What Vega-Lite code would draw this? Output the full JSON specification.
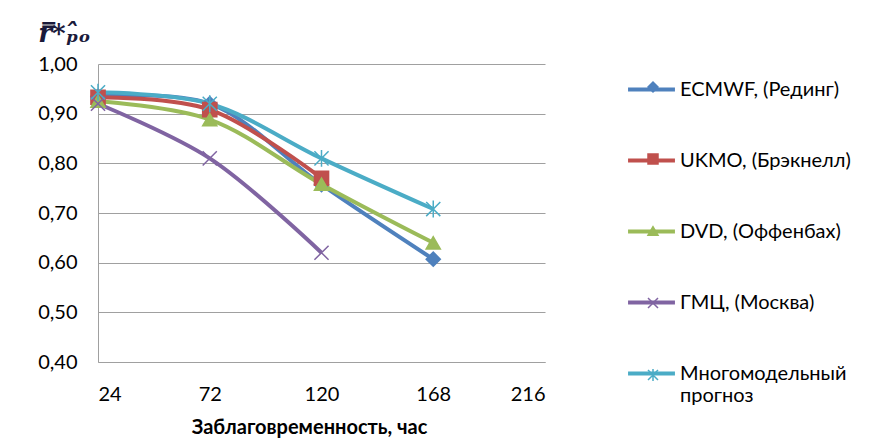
{
  "$schema": "https://vega.github.io/schema/vega-lite/v6.json",
  "width": 447,
  "height": 298,
  "autosize": {"type": "none"},
  "padding": {"left": 98, "top": 64, "right": 334, "bottom": 81},
  "background": "white",
  "config": {
    "font": "Lato",
    "view": {"stroke": null},
    "axis": {"labelFont": "Lato", "labelFontSize": 20, "labelColor": "#000000", "titleFont": "Lato", "titleColor": "#000000"},
    "legend": {"padding": 0, "labelLimit": 400}
  },
  "data": {
    "values": [
      {"series": "ECMWF, (Рединг)", "hours": 24, "value": 0.935},
      {"series": "ECMWF, (Рединг)", "hours": 72, "value": 0.92},
      {"series": "ECMWF, (Рединг)", "hours": 120, "value": 0.757},
      {"series": "ECMWF, (Рединг)", "hours": 168, "value": 0.607},
      {"series": "UKMO, (Брэкнелл)", "hours": 24, "value": 0.933},
      {"series": "UKMO, (Брэкнелл)", "hours": 72, "value": 0.908},
      {"series": "UKMO, (Брэкнелл)", "hours": 120, "value": 0.77},
      {"series": "DVD, (Оффенбах)", "hours": 24, "value": 0.925},
      {"series": "DVD, (Оффенбах)", "hours": 72, "value": 0.888},
      {"series": "DVD, (Оффенбах)", "hours": 120, "value": 0.758},
      {"series": "DVD, (Оффенбах)", "hours": 168, "value": 0.64},
      {"series": "ГМЦ, (Москва)", "hours": 24, "value": 0.92},
      {"series": "ГМЦ, (Москва)", "hours": 72, "value": 0.81},
      {"series": "ГМЦ, (Москва)", "hours": 120, "value": 0.62},
      {"series": "Многомодельный прогноз", "hours": 24, "value": 0.943},
      {"series": "Многомодельный прогноз", "hours": 72, "value": 0.92},
      {"series": "Многомодельный прогноз", "hours": 120, "value": 0.81},
      {"series": "Многомодельный прогноз", "hours": 168, "value": 0.708}
    ]
  },
  "encoding": {
    "x": {
      "field": "hours", "type": "quantitative",
      "scale": {"domain": [24, 216], "nice": false, "zero": false},
      "axis": {
        "values": [24, 72, 120, 168, 216], "grid": false, "ticks": false, "tickSize": 0,
        "domainColor": "#A0A0A0", "labelPadding": 22, "title": "Заблаговременность, час",
        "titleFontSize": 20, "titleFontWeight": "bold", "titlePadding": 13, "titleX": 211
      }
    },
    "y": {
      "field": "value", "type": "quantitative",
      "scale": {"domain": [0.4, 1.0], "nice": false, "zero": false},
      "axis": {
        "values": [0.4, 0.5, 0.6, 0.7, 0.8, 0.9, 1.0], "grid": true, "gridColor": "#A0A0A0", "gridWidth": 1.2,
        "ticks": false, "tickSize": 0, "domainColor": "#A0A0A0", "labelPadding": 21,
        "labelExpr": "replace(format(datum.value, '.2f'), '.', ',')",
        "title": "r̿*ₚ̂ₒ", "titleAngle": 0, "titleX": -34, "titleY": -31, "titleAlign": "center",
        "titleBaseline": "middle", "titleFont": "DejaVu Serif", "titleFontStyle": "italic",
        "titleFontWeight": "bold", "titleFontSize": 26, "titleColor": "#1a1a3a"
      }
    }
  },
  "layer": [
    {
      "mark": {"type": "line", "interpolate": "catmull-rom", "strokeWidth": 4},
      "encoding": {
        "color": {
          "field": "series", "type": "nominal",
          "scale": {
            "domain": ["ECMWF, (Рединг)", "UKMO, (Брэкнелл)", "DVD, (Оффенбах)", "ГМЦ, (Москва)", "Многомодельный прогноз"],
            "range": ["#4F81BD", "#C0504D", "#9BBB59", "#8064A2", "#4BACC6"]
          },
          "legend": {
            "orient": "none", "legendX": 528, "legendY": 0, "title": null,
            "symbolType": "stroke", "symbolSize": 2200, "symbolStrokeWidth": 4,
            "labelFontSize": 20, "labelFont": "Lato", "labelColor": "#000000", "rowPadding": 35, "labelOffset": 3,
            "labelExpr": "datum.label == 'Многомодельный прогноз' ? ['Многомодельный', 'прогноз'] : datum.label"
          }
        }
      }
    },
    {
      "mark": {"type": "point", "filled": true, "opacity": 1, "strokeWidth": 1.5},
      "encoding": {
        "color": {
          "field": "series", "type": "nominal",
          "scale": {
            "domain": ["ECMWF, (Рединг)", "UKMO, (Брэкнелл)", "DVD, (Оффенбах)", "ГМЦ, (Москва)", "Многомодельный прогноз"],
            "range": ["#4F81BD", "#C0504D", "#9BBB59", "#8064A2", "#4BACC6"]
          },
          "legend": {
            "orient": "none", "legendX": 545, "legendY": 13, "title": null,
            "labelFontSize": 20, "labelFont": "Lato", "labelOpacity": 0, "rowPadding": 52, "symbolStrokeWidth": 1.5,
            "labelExpr": "' '"
          }
        },
        "stroke": {
          "field": "series", "type": "nominal",
          "scale": {
            "domain": ["ECMWF, (Рединг)", "UKMO, (Брэкнелл)", "DVD, (Оффенбах)", "ГМЦ, (Москва)", "Многомодельный прогноз"],
            "range": ["#4F81BD", "#C0504D", "#9BBB59", "#8064A2", "#4BACC6"]
          },
          "legend": null
        },
        "shape": {
          "field": "series", "type": "nominal",
          "scale": {
            "domain": ["ECMWF, (Рединг)", "UKMO, (Брэкнелл)", "DVD, (Оффенбах)", "ГМЦ, (Москва)", "Многомодельный прогноз"],
            "range": ["diamond", "square", "triangle-up", "M-1,-1L1,1M-1,1L1,-1", "M-1,-1L1,1M-1,1L1,-1M0,-1.2L0,1.2"]
          },
          "legend": {
            "orient": "none", "legendX": 545, "legendY": 13, "title": null,
            "labelFontSize": 20, "labelFont": "Lato", "labelOpacity": 0, "rowPadding": 52, "symbolStrokeWidth": 1.5,
            "labelExpr": "' '"
          }
        },
        "size": {"value": 200}
      }
    }
  ],
  "resolve": {
    "scale": {"color": "independent", "shape": "independent", "stroke": "independent"},
    "legend": {"color": "independent", "shape": "independent", "stroke": "independent"}
  }
}
